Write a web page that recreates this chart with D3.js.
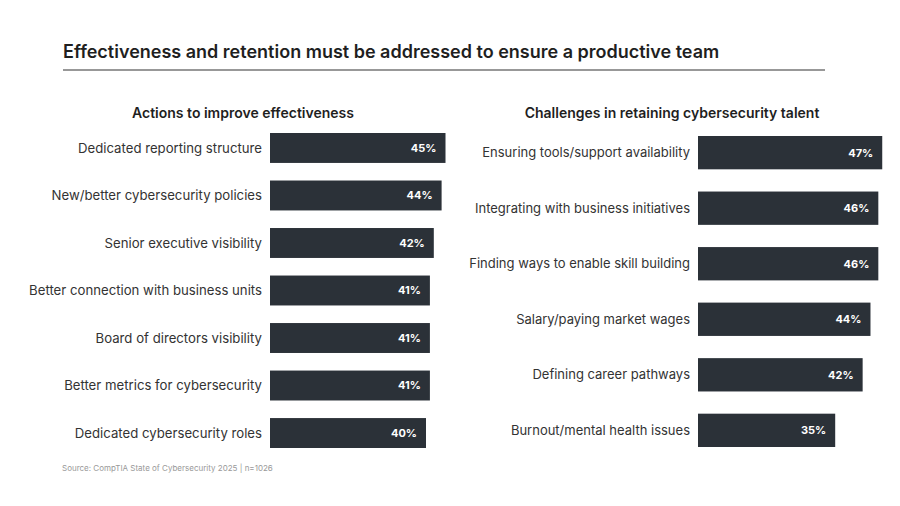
<!DOCTYPE html>
<html><head><meta charset="utf-8">
<script src="https://cdn.jsdelivr.net/npm/d3@7"></script>
<style>body{margin:0;background:#fff;}svg{display:block;font-family:Inter,"Noto Sans",sans-serif;}</style>
</head><body>
<svg id="c" width="900" height="506"></svg>
<script>
const leftCategories = ["Dedicated reporting structure","New/better cybersecurity policies","Senior executive visibility","Better connection with business units","Board of directors visibility","Better metrics for cybersecurity","Dedicated cybersecurity roles"];
const leftValues = [45,44,42,41,41,41,40];
const rightCategories = ["Ensuring tools/support availability","Integrating with business initiatives","Finding ways to enable skill building","Salary/paying market wages","Defining career pathways","Burnout/mental health issues"];
const rightValues = [47,46,46,44,42,35];
const titleText = "Effectiveness and retention must be addressed to ensure a productive team";
const leftTitle = "Actions to improve effectiveness";
const rightTitle = "Challenges in retaining cybersecurity talent";
const sourceText = "Source: CompTIA State of Cybersecurity 2025 | n=1026";

const svg = d3.select("#c");
const barColor = "#2b3138";

svg.append("text").attr("x",63).attr("y",58).attr("font-size",18).attr("font-weight",600)
  .attr("fill","#1f1f1f").text(titleText);
svg.append("line").attr("x1",63).attr("x2",825).attr("y1",70).attr("y2",70)
  .attr("stroke","#333").attr("stroke-width",1.2);

function panel(cats, vals, opt){
  const x = d3.scaleLinear().domain([0,100]).range([opt.x0, opt.x0+opt.w100]);
  const y = d3.scaleBand().domain(cats).range([opt.y0, opt.y1]).paddingInner(opt.pad).paddingOuter(0);
  const g = svg.append("g");
  g.append("text").attr("x",opt.tx).attr("y",118).attr("text-anchor","middle")
   .attr("font-size",14).attr("font-weight",600).attr("fill","#1f1f1f").text(opt.title);
  const row = g.selectAll("g.r").data(cats.map((c,i)=>({c,v:vals[i]}))).join("g");
  row.append("rect").attr("x",x(0)).attr("y",d=>y(d.c)).attr("height",y.bandwidth())
    .attr("width",d=>x(d.v)-x(0)).attr("fill",barColor);
  row.append("text").attr("x",d=>x(d.v)-9).attr("y",d=>y(d.c)+y.bandwidth()/2).attr("dy","0.35em")
    .attr("text-anchor","end").attr("font-size",11).attr("font-weight",700).attr("fill","#fff")
    .text(d=>d.v+"%");
  row.append("text").attr("x",x(0)-8).attr("y",d=>y(d.c)+y.bandwidth()/2).attr("dy","0.35em")
    .attr("text-anchor","end").attr("font-size",opt.fs).attr("fill","#333").text(d=>d.c);
}
panel(leftCategories,leftValues,{x0:270,w100:390,y0:133,y1:448,pad:0.37,tx:243,title:leftTitle,fs:13.2});
panel(rightCategories,rightValues,{x0:698,w100:392,y0:136,y1:447,pad:0.4,tx:672,title:rightTitle,fs:13});

svg.append("text").attr("x",62).attr("y",471).attr("font-size",8).attr("fill","#999").text(sourceText);
</script>
</body></html>
